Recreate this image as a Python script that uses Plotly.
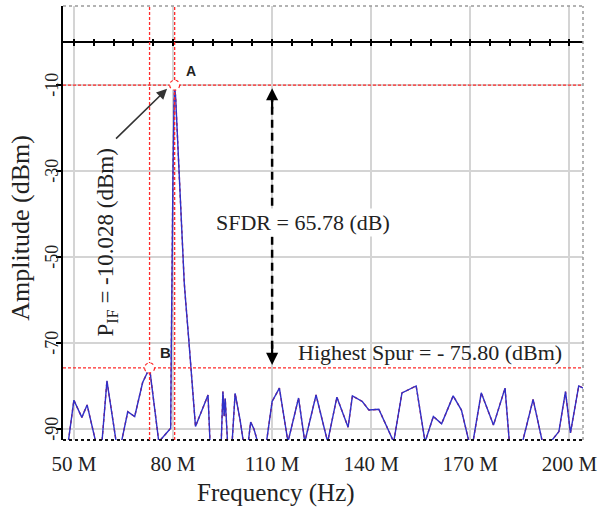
import plotly.graph_objects as go

# ---------------- data ----------------
FREQ_MHZ = [46.7, 48.3, 50.0, 52.4, 54.0, 56.6, 58.5, 60.0, 62.8, 64.4, 66.3, 68.4, 70.8, 72.9,
            75.7, 79.3, 79.5, 79.7, 80.0, 80.3, 80.5, 80.8, 81.2, 81.6, 82.0, 82.3, 82.6, 83.0,
            83.4, 83.8, 84.3, 84.8, 86.8, 90.6, 91.2, 94.6, 95.1, 95.5, 95.8, 96.5, 97.9, 98.8,
            100.3, 101.3, 102.8, 103.5, 104.5, 105.6, 108.3, 110.0, 112.2, 114.8, 118.0, 119.9,
            123.3, 126.8, 129.6, 133.0, 134.3, 137.3, 139.3, 142.3, 146.8, 149.3, 153.6, 156.3,
            158.8, 161.3, 164.8, 167.3, 169.6, 170.8, 173.3, 177.0, 180.5, 181.8, 185.8, 189.0,
            191.8, 194.3, 196.8, 198.8, 200.3, 202.8, 204.2]
AMP_DBM = [-93, -93, -83.3, -87.3, -84.4, -93, -93, -78.8, -93, -93, -86.0, -87.1, -79.2, -75.8,
           -93, -89.8, -70, -50, -30, -15, -10.03, -13, -20, -27, -33, -38, -44, -50,
           -56, -60, -64, -69.5, -89.4, -82.1, -93, -93, -81.3, -87, -82.9, -93, -93, -81.7,
           -87.9, -93, -93, -88.4, -90, -93, -93, -83.6, -80.5, -93, -82.8, -93,
           -82.1, -93, -82.6, -89.6, -82.3, -83.6, -85.6, -85.4, -93, -81.6, -80.0, -93,
           -87.1, -88.8, -82.3, -85.6, -93, -93, -81.6, -89.1, -80.5, -93, -93, -83.1,
           -93, -93, -90.6, -81.3, -90.9, -80.0, -80.5]

MARK_A = (80.5, -10.03)      # fundamental
MARK_B = (72.9, -75.80)      # highest spur
SFDR_X = 110.0

X_TICKS = [50, 80, 110, 140, 170, 200]
X_TICK_TEXT = ["50 M", "80 M", "110 M", "140 M", "170 M", "200 M"]
Y_TICKS = [-10, -30, -50, -70, -90]
Y_TICK_TEXT = ["-10", "-30", "-50", "-70", "-90"]

X_RANGE = [46.7, 204.1]
Y_RANGE = [-92.56, 8.37]

SERIF = "Liberation Serif, Times New Roman, serif"
SANS = "Liberation Sans, Arial, sans-serif"
RED = "#ff2a2a"

fig = go.Figure()

# red trace underneath, blue on top
fig.add_trace(go.Scatter(x=FREQ_MHZ, y=AMP_DBM, mode="lines",
                         line=dict(color="#e02020", width=1.4, dash="dot"),
                         hoverinfo="skip", showlegend=False))
fig.add_trace(go.Scatter(x=FREQ_MHZ, y=AMP_DBM, mode="lines",
                         line=dict(color="#3030c8", width=1.4),
                         showlegend=False))
# dummy traces to hold the 0 dBm tick axes
fig.add_trace(go.Scatter(x=[None], y=[None], xaxis="x2", yaxis="y", showlegend=False, hoverinfo="skip"))
fig.add_trace(go.Scatter(x=[None], y=[None], xaxis="x3", yaxis="y", showlegend=False, hoverinfo="skip"))

zero_pos = (0 - Y_RANGE[0]) / (Y_RANGE[1] - Y_RANGE[0])

shapes = []
# plot border: top/right gray dotted, bottom black dotted
shapes.append(dict(type="line", xref="paper", yref="paper", x0=0, x1=1, y0=1, y1=1,
                   line=dict(color="#9a9a9a", width=1.5, dash="dot")))
shapes.append(dict(type="line", xref="paper", yref="paper", x0=1, x1=1, y0=0, y1=1,
                   line=dict(color="#9a9a9a", width=1.5, dash="dot")))
shapes.append(dict(type="line", xref="paper", yref="paper", x0=0, x1=1, y0=0, y1=0,
                   line=dict(color="#111111", width=2, dash="dot")))
# red marker cross lines
for fx in (MARK_B[0], MARK_A[0]):
    shapes.append(dict(type="line", xref="x", yref="paper", x0=fx, x1=fx, y0=0, y1=1,
                       line=dict(color=RED, width=1.3, dash="3px,2px")))
for ay in (MARK_A[1], MARK_B[1]):
    shapes.append(dict(type="line", xref="paper", yref="y", x0=0, x1=1, y0=ay, y1=ay,
                       line=dict(color=RED, width=1.3, dash="3px,2px")))
# small circles at markers
for mx, my in (MARK_A, MARK_B):
    shapes.append(dict(type="circle", xref="x", yref="y", xsizemode="pixel", ysizemode="pixel",
                       xanchor=mx, yanchor=my, x0=-5, x1=5, y0=-5, y1=5,
                       fillcolor="white", line=dict(color=RED, width=1.2, dash="dot")))
# SFDR dashed double arrow shaft
shapes.append(dict(type="line", xref="x", yref="y", x0=SFDR_X, x1=SFDR_X,
                   y0=MARK_A[1] - 2.0, y1=MARK_B[1] + 2.0,
                   line=dict(color="black", width=2.5, dash="8px,5px")))

annotations = []
# y tick labels (rotated, close to the axis)
for tv, tt in zip(Y_TICKS, Y_TICK_TEXT):
    annotations.append(dict(text=tt, xref="paper", yref="y", x=-0.0215, y=tv, xanchor="center",
                            yanchor="middle", textangle=-90, showarrow=False,
                            font=dict(family=SERIF, size=18, color="#222")))
# axis titles
annotations.append(dict(text="Frequency (Hz)", xref="paper", yref="paper", x=0.409, y=-0.122,
                        xanchor="center", yanchor="middle",
                        showarrow=False, font=dict(family=SERIF, size=25, color="#222")))
annotations.append(dict(text="Amplitude (dBm)", xref="paper", yref="paper", x=-0.082, y=0.49,
                        xanchor="center", yanchor="middle",
                        textangle=-90, showarrow=False, font=dict(family=SERIF, size=26, color="#222")))
# marker labels
annotations.append(dict(text="<b>A</b>", x=85.4, y=-6.7, showarrow=False,
                        font=dict(family=SANS, size=14, color="#222")))
annotations.append(dict(text="<b>B</b>", x=77.6, y=-72.1, showarrow=False,
                        font=dict(family=SANS, size=15, color="#222")))
# P_IF annotation
annotations.append(dict(text="P<sub>IF</sub> = -10.028 (dBm)", x=60.05, y=-46.6, textangle=-90,
                        showarrow=False, font=dict(family=SERIF, size=23, color="#222")))
annotations.append(dict(text="", x=78.2, y=-10.9, ax=62.3, ay=-22.8, axref="x", ayref="y",
                        showarrow=True, arrowhead=2, arrowsize=1.3, arrowwidth=1.6, arrowcolor="#333"))
# SFDR
annotations.append(dict(text="SFDR = 65.78 (dB)", x=119.3, y=-41.9, showarrow=False,
                        bgcolor="white", font=dict(family=SERIF, size=22, color="#222")))
annotations.append(dict(text="", x=SFDR_X, y=MARK_A[1] - 0.7, ax=0, ay=22, showarrow=True,
                        arrowhead=2, arrowsize=1.1, arrowwidth=2.2, arrowcolor="black"))
annotations.append(dict(text="", x=SFDR_X, y=MARK_B[1] + 0.7, ax=0, ay=-22, showarrow=True,
                        arrowhead=2, arrowsize=1.1, arrowwidth=2.2, arrowcolor="black"))
# highest spur
annotations.append(dict(text="Highest Spur = - 75.80 (dBm)", x=157.9, y=-72.1, showarrow=False,
                        font=dict(family=SERIF, size=22, color="#222")))

fig.update_layout(
    width=603, height=510,
    margin=dict(l=63, r=15.5, t=6, b=70),
    paper_bgcolor="white", plot_bgcolor="white",
    showlegend=False,
    xaxis=dict(range=X_RANGE, tickvals=X_TICKS, ticktext=X_TICK_TEXT,
               showgrid=True, gridcolor="#d4d4d4", gridwidth=1.5,
               showline=False, zeroline=False, ticks="", ticklabelstandoff=9,
               tickfont=dict(family=SERIF, size=21, color="#222")),
    xaxis2=dict(range=X_RANGE, overlaying="x", anchor="free", position=zero_pos, side="bottom",
                showline=True, linecolor="black", linewidth=1.5, showgrid=False, zeroline=False,
                tick0=50, dtick=6, ticks="outside", ticklen=3, tickwidth=1.5, tickcolor="black",
                showticklabels=False),
    xaxis3=dict(range=X_RANGE, overlaying="x", anchor="free", position=zero_pos, side="top",
                showline=False, showgrid=False, zeroline=False,
                tick0=50, dtick=6, ticks="outside", ticklen=3, tickwidth=1.5, tickcolor="black",
                showticklabels=False),
    yaxis=dict(range=Y_RANGE, tickvals=Y_TICKS, showticklabels=False,
               showgrid=True, gridcolor="#d4d4d4", gridwidth=1.5,
               showline=True, linecolor="black", linewidth=1.5, zeroline=False,
               ticks="outside", ticklen=5, tickwidth=1.5, tickcolor="black"),
    shapes=shapes,
    annotations=annotations,
)

fig.write_html("out.html")
